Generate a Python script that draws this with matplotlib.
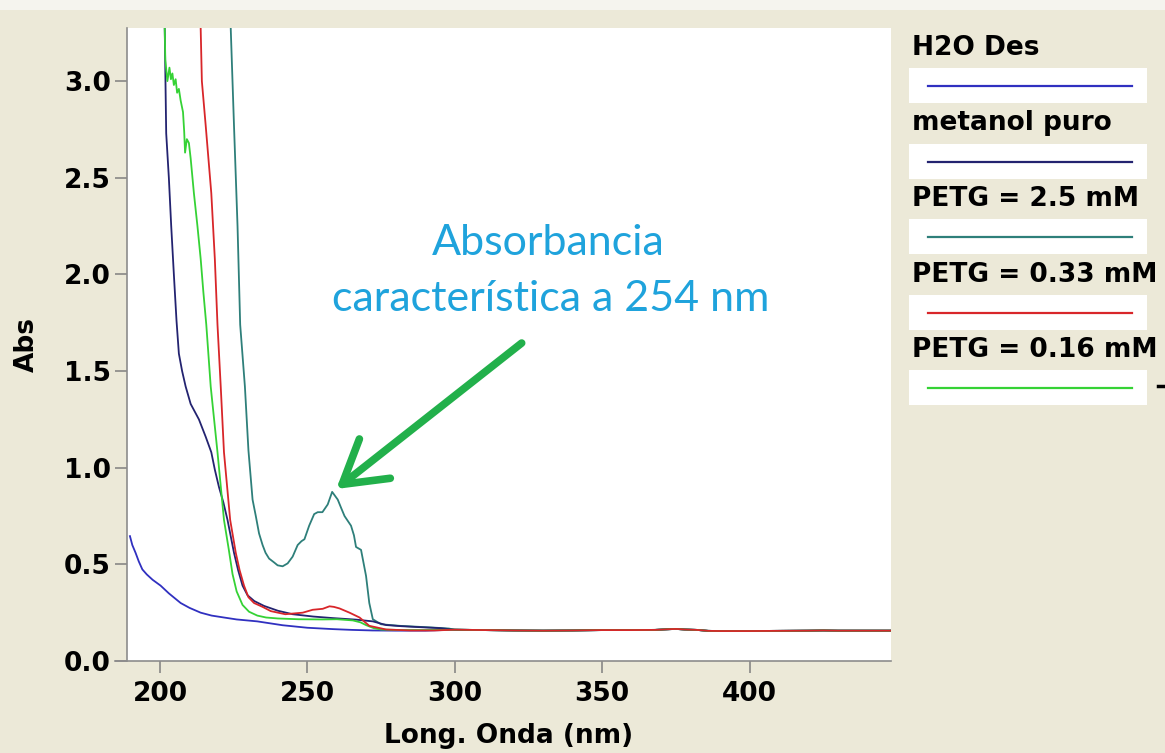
import matplotlib.pyplot as plt
from matplotlib.patches import Rectangle
from matplotlib.lines import Line2D

# UV-Vis spectra: wavelength (nm) and absorbance
WL_H2O = [189.8, 190.6, 191.7, 192.8, 194.0, 195.5, 197.5, 200.2, 203.0, 207.0, 210.0,
          213.8, 217.5, 221.7, 226.0, 233.0, 241.6, 250.0, 258.6, 265.0, 272.0, 280.0, 290.0]
ABS_H2O = [0.646, 0.600, 0.560, 0.515, 0.474, 0.448, 0.420, 0.390, 0.350, 0.300, 0.275,
           0.250, 0.235, 0.225, 0.215, 0.205, 0.185, 0.172, 0.165, 0.161, 0.158, 0.157, 0.157]

WL_MEOH = [201.3, 201.6, 202.1, 203.0, 203.8, 204.7, 205.6, 206.4, 207.5, 208.7, 210.4,
           213.2, 215.5, 217.4, 218.6, 220.0, 221.5, 222.9, 225.1, 226.5, 228.0, 229.7,
           232.0, 235.3, 240.0, 245.0, 252.0, 258.6, 266.5, 272.2, 276.7, 282.0, 287.0, 295.0]
ABS_MEOH = [3.50, 3.27, 2.73, 2.50, 2.25, 2.00, 1.76, 1.59, 1.50, 1.42, 1.33,
            1.25, 1.16, 1.08, 0.99, 0.90, 0.82, 0.73, 0.56, 0.47, 0.39, 0.34,
            0.31, 0.285, 0.260, 0.242, 0.230, 0.222, 0.214, 0.205, 0.186, 0.180, 0.176, 0.170]

WL_25 = [223.8, 224.0, 225.1, 226.3, 227.2, 228.8, 230.0, 231.4, 232.5, 233.6, 234.8,
         235.8, 237.0, 238.7, 239.9, 241.6, 243.3, 245.0, 246.7, 248.0, 249.0, 250.6,
         252.3, 253.5, 255.1, 256.9, 258.4, 260.3, 261.5, 262.6, 264.8, 265.8, 266.5,
         268.2, 269.9, 271.0, 272.2, 275.0, 281.3, 292.6, 298.0]
ABS_25 = [3.50, 3.27, 2.77, 2.25, 1.74, 1.42, 1.09, 0.835, 0.75, 0.66, 0.60,
          0.56, 0.53, 0.51, 0.495, 0.49, 0.505, 0.54, 0.60, 0.62, 0.63, 0.70,
          0.76, 0.77, 0.77, 0.81, 0.875, 0.835, 0.79, 0.75, 0.70, 0.65, 0.59,
          0.575, 0.44, 0.30, 0.216, 0.19, 0.182, 0.173, 0.168]

WL_033 = [213.5, 213.8, 214.2, 215.5, 217.4, 218.6, 219.5, 220.6, 221.7, 223.8, 225.7,
          227.0, 228.5, 230.0, 231.9, 234.8, 237.6, 242.5, 248.4, 251.8, 255.2, 257.5,
          259.0, 260.9, 264.3, 267.7, 271.0, 276.7, 285.0, 293.0]
ABS_033 = [3.50, 3.27, 3.00, 2.77, 2.42, 2.08, 1.74, 1.42, 1.08, 0.73, 0.56,
           0.47, 0.39, 0.33, 0.30, 0.28, 0.258, 0.242, 0.250, 0.265, 0.270, 0.283,
           0.280, 0.272, 0.250, 0.225, 0.182, 0.163, 0.158, 0.158]

WL_016 = [201.3, 201.6, 201.8, 202.5, 203.2, 203.7, 204.2, 204.7, 205.3, 205.8, 206.4,
          207.0, 207.8, 208.2, 208.5, 209.1, 209.8, 210.4, 211.5, 212.7, 213.8, 214.7,
          215.7, 217.2, 219.5, 221.7, 223.3, 224.6, 226.0, 228.0, 230.2, 233.0, 236.0,
          240.0, 247.0, 255.0, 260.0, 265.4, 268.0, 270.0, 272.5, 275.0, 282.0, 292.0]
ABS_016 = [3.50, 3.27, 3.11, 3.00, 3.07, 3.01, 3.04, 2.98, 3.01, 2.94, 2.96,
           2.90, 2.84, 2.74, 2.63, 2.70, 2.68, 2.60, 2.42, 2.25, 2.08, 1.91,
           1.74, 1.42, 1.08, 0.73, 0.58, 0.45, 0.36, 0.29, 0.255, 0.235, 0.225,
           0.220, 0.216, 0.215, 0.216, 0.210, 0.200, 0.185, 0.170, 0.163, 0.160, 0.160]

# common baseline once every sample stops absorbing
WL_BASE = [300, 310, 320, 330, 340, 350, 360, 368, 372, 375, 378, 382, 386, 390,
           400, 410, 420, 425, 430, 440, 448]
ABS_BASE = [0.162, 0.160, 0.158, 0.157, 0.158, 0.160, 0.160, 0.161, 0.164, 0.166, 0.163,
            0.161, 0.156, 0.155, 0.155, 0.156, 0.157, 0.158, 0.157, 0.157, 0.157]

LABELS = ['H2O Des', 'metanol puro', 'PETG = 2.5 mM', 'PETG = 0.33 mM', 'PETG = 0.16 mM']
COLORS = ['#3030C0', '#232370', '#2E7F7A', '#D8262A', '#35D235']
SERIES = [(WL_H2O, ABS_H2O), (WL_MEOH, ABS_MEOH), (WL_25, ABS_25),
          (WL_033, ABS_033), (WL_016, ABS_016)]
ZORDER = [2, 3, 2.5, 5, 4]

X_TICKS = [200, 250, 300, 350, 400]
Y_TICKS = [0.0, 0.5, 1.0, 1.5, 2.0, 2.5, 3.0]

W, H = 1165, 753
BG = '#ECE9D8'


def fxy(px, py):
    return px / W, 1 - py / H


fig = plt.figure(figsize=(W / 100, H / 100), dpi=100)
fig.patch.set_facecolor(BG)
fig.add_artist(Rectangle((0, 1 - 10 / H), 1, 10 / H, transform=fig.transFigure,
                         facecolor='#F5F4EE', edgecolor='none', zorder=0))

ax = fig.add_axes([127 / W, 92 / H, 764 / W, 633 / H])
ax.set_facecolor('white')

for (wl, ab), c, z in zip(SERIES, COLORS, ZORDER):
    ax.plot(list(wl) + WL_BASE, list(ab) + ABS_BASE, color=c, lw=1.3, zorder=z)

ax.set_xlim(188.8, 448)
ax.set_ylim(0, 3.275)
ax.set_xticks(X_TICKS)
ax.set_yticks(Y_TICKS)
ax.set_yticklabels([f'{v:.1f}' for v in Y_TICKS])

for s in ['top', 'right']:
    ax.spines[s].set_visible(False)
for s in ['left', 'bottom']:
    ax.spines[s].set_color('#8C8C8C')
    ax.spines[s].set_linewidth(1.2)
ax.spines['bottom'].set_bounds(184.7, 448)

ax.tick_params(axis='both', direction='out', length=8.5, width=1.1, color='#7F7F7F',
               labelsize=19, labelcolor='black')
ax.tick_params(axis='x', pad=6)
ax.tick_params(axis='y', pad=3)
for lab in ax.get_xticklabels() + ax.get_yticklabels():
    lab.set_fontweight('bold')

ax.set_xlabel('Long. Onda (nm)', fontsize=19, fontweight='bold', va='center')
ax.xaxis.set_label_coords(0.5, -0.118)
ax.set_ylabel('Abs', fontsize=19, fontweight='bold', va='center')
ax.yaxis.set_label_coords(-0.131, 0.5)

# arrow pointing at the aromatic band
ax.annotate('', xy=(259.8, 0.89), xytext=(322.7, 1.645), annotation_clip=False,
            arrowprops=dict(arrowstyle='->, head_length=0.75, head_width=0.45',
                            color='#22B04B', lw=5.5, mutation_scale=40,
                            shrinkA=0, shrinkB=0))
fig.text(*fxy(548, 243), 'Absorbancia', family='Lato', fontsize=31,
         color='#1FA3DC', ha='center', va='center')
fig.text(*fxy(551, 299), 'característica a 254 nm', family='Lato', fontsize=31,
         color='#1FA3DC', ha='center', va='center')

# legend: label above a white swatch box
for i, (lab, c) in enumerate(zip(LABELS, COLORS)):
    step = 75.5 * i
    fig.text(*fxy(912, 48 + step), lab, fontsize=19, fontweight='bold',
             ha='left', va='center')
    x0, y0 = fxy(909, 68 + step + 35)
    fig.add_artist(Rectangle((x0, y0), 238 / W, 35 / H, transform=fig.transFigure,
                             facecolor='white', edgecolor='none'))
    lx0, ly = fxy(928, 86 + step)
    lx1, _ = fxy(1132, 86 + step)
    fig.add_artist(Line2D([lx0, lx1], [ly, ly], transform=fig.transFigure,
                          color=c, lw=1.6))

bx0, by = fxy(1158, 386)
bx1, _ = fxy(1165, 386)
fig.add_artist(Line2D([bx0, bx1], [by, by], transform=fig.transFigure,
                      color='black', lw=2.5))

fig.savefig('out.png', dpi=100, facecolor=fig.get_facecolor())
